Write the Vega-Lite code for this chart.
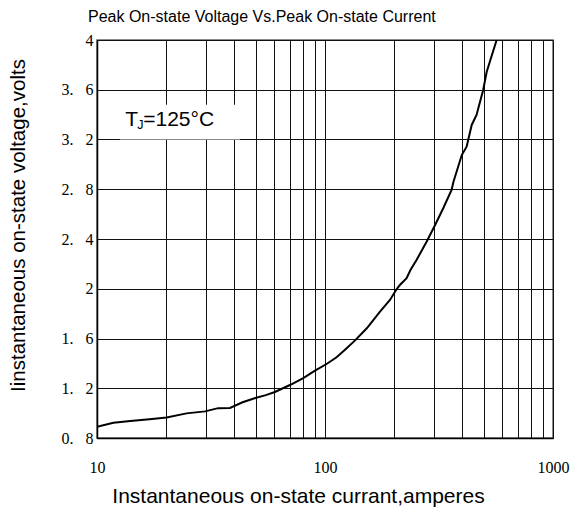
{
  "$schema": "https://vega.github.io/schema/vega-lite/v6.json",
  "width": 456,
  "height": 398,
  "autosize": "none",
  "padding": {"left": 97, "top": 40, "right": 22, "bottom": 75},
  "background": "white",
  "title": {
    "text": "Peak On-state Voltage Vs.Peak On-state Current",
    "anchor": "start",
    "frame": "group",
    "dx": -9,
    "offset": 7,
    "font": "Liberation Sans Narrow, Liberation Sans",
    "fontSize": 16,
    "fontWeight": "normal",
    "color": "#000"
  },
  "config": {
    "view": {"stroke": "#666", "strokeWidth": 1.5},
    "axis": {
      "grid": true,
      "gridColor": "#111",
      "gridWidth": 1,
      "gridOpacity": 1,
      "ticks": false,
      "domainColor": "#000",
      "domainWidth": 1.5,
      "labelColor": "#000",
      "titleColor": "#000",
      "titleFontWeight": "normal"
    }
  },
  "layer": [
    {
      "data": {
        "values": [
          {"I": 10, "V": 0.89},
          {"I": 11.8, "V": 0.923},
          {"I": 14, "V": 0.936},
          {"I": 17, "V": 0.95},
          {"I": 20.2, "V": 0.965},
          {"I": 24.7, "V": 0.998},
          {"I": 29.8, "V": 1.014},
          {"I": 34.0, "V": 1.04},
          {"I": 38.3, "V": 1.042},
          {"I": 43.5, "V": 1.087},
          {"I": 49.5, "V": 1.122},
          {"I": 55, "V": 1.145},
          {"I": 60.3, "V": 1.17},
          {"I": 70.2, "V": 1.226},
          {"I": 80.3, "V": 1.282},
          {"I": 90.4, "V": 1.341},
          {"I": 101.6, "V": 1.395},
          {"I": 112.4, "V": 1.449},
          {"I": 122.4, "V": 1.51},
          {"I": 135.5, "V": 1.585},
          {"I": 152.5, "V": 1.682},
          {"I": 174.3, "V": 1.816},
          {"I": 192.7, "V": 1.91},
          {"I": 206, "V": 1.996},
          {"I": 213, "V": 2.03},
          {"I": 228, "V": 2.085},
          {"I": 237, "V": 2.15},
          {"I": 252, "V": 2.231},
          {"I": 279, "V": 2.378},
          {"I": 304, "V": 2.513},
          {"I": 330, "V": 2.647},
          {"I": 359, "V": 2.794},
          {"I": 366, "V": 2.861},
          {"I": 398, "V": 3.075},
          {"I": 418, "V": 3.142},
          {"I": 440, "V": 3.317},
          {"I": 462, "V": 3.397},
          {"I": 494, "V": 3.598},
          {"I": 512, "V": 3.745},
          {"I": 566, "V": 4.0}
        ]
      },
      "mark": {"type": "line", "color": "#000", "strokeWidth": 2, "clip": true},
      "encoding": {
        "x": {
          "field": "I",
          "type": "quantitative",
          "scale": {"type": "log", "domain": [10, 1000]},
          "axis": {
            "values": [10, 20, 30, 40, 50, 60, 70, 80, 90, 100, 200, 300, 400, 500, 600, 700, 800, 900, 1000],
            "labelExpr": "indexof([10, 100, 1000], datum.value) >= 0 ? format(datum.value, 'd') : ''",
            "labelFlush": false,
            "labelOverlap": false,
            "labelFont": "Liberation Serif",
            "labelFontSize": 16,
            "labelPadding": 21,
            "title": "Instantaneous on-state currant,amperes",
            "titleFont": "Liberation Sans",
            "titleFontSize": 21,
            "titleX": 201,
            "titleY": 64,
            "titleAlign": "center",
            "titleBaseline": "alphabetic"
          }
        },
        "y": {
          "field": "V",
          "type": "quantitative",
          "scale": {"domain": [0.8, 4], "zero": false, "nice": false},
          "axis": {
            "values": [0.8, 1.2, 1.6, 2, 2.4, 2.8, 3.2, 3.6, 4],
            "labelExpr": "replace(format(datum.value, '.1~f'), '.', '.\u2002\u00a0')",
            "labelFont": "Liberation Serif",
            "labelFontSize": 16,
            "labelPadding": 4,
            "title": "Iinstantaneous on-state voltage,volts",
            "titleFont": "Liberation Sans Narrow, Liberation Sans",
            "titleFontSize": 20.5,
            "titleX": -79,
            "titleY": 185,
            "titleAngle": -90,
            "titleAlign": "center",
            "titleBaseline": "middle"
          }
        }
      }
    },
    {
      "data": {"values": [{"x1": 12.6, "x2": 42.4, "y1": 3.2, "y2": 3.48}]},
      "mark": {"type": "rect", "fill": "white", "stroke": null},
      "encoding": {
        "x": {"field": "x1", "type": "quantitative"},
        "x2": {"field": "x2"},
        "y": {"field": "y1", "type": "quantitative"},
        "y2": {"field": "y2"}
      }
    },
    {
      "data": {
        "values": [
          {"x": 13.3, "y": 3.308, "t": "T", "s": "big"},
          {"x": 15.0, "y": 3.282, "t": "J", "s": "small"},
          {"x": 15.95, "y": 3.308, "t": "=125°C", "s": "big"}
        ]
      },
      "mark": {"type": "text", "align": "left", "baseline": "alphabetic", "font": "Liberation Sans", "color": "#000"},
      "encoding": {
        "x": {"field": "x", "type": "quantitative"},
        "y": {"field": "y", "type": "quantitative"},
        "text": {"field": "t"},
        "size": {
          "field": "s",
          "type": "nominal",
          "scale": {"domain": ["big", "small"], "range": [21, 12.5]},
          "legend": null
        }
      }
    }
  ]
}
